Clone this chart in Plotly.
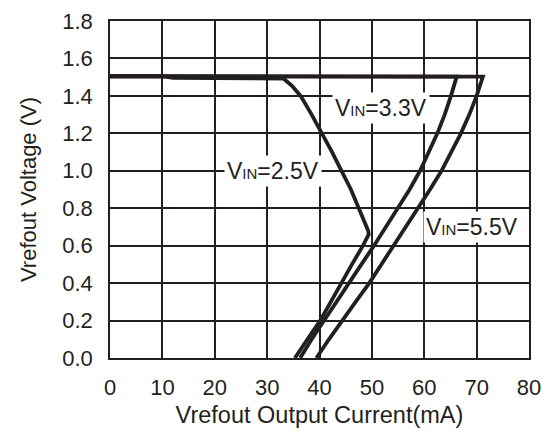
import plotly.graph_objects as go

# VIN = 2.5V curve
x25 = [0, 10, 12, 20, 30, 33.1, 34.7, 36.4, 38.5, 40.5, 42.4, 44.2, 46.0, 47.5, 48.6, 49.3, 49.4, 48.3, 46.2, 44.2, 42.1, 40.1, 37.7, 35.3]
y25 = [1.505, 1.505, 1.497, 1.495, 1.495, 1.493, 1.455, 1.40, 1.30, 1.20, 1.10, 1.00, 0.90, 0.80, 0.73, 0.68, 0.66, 0.60, 0.50, 0.40, 0.30, 0.198, 0.10, 0.0]

# VIN = 3.3V curve
x33 = [0, 40, 66.2, 65.1, 63.9, 62.5, 60.9, 59.2, 57.2, 55.0, 52.7, 50.4, 48.0, 45.6, 43.2, 40.8, 38.5, 36.3]
y33 = [1.505, 1.505, 1.503, 1.40, 1.30, 1.20, 1.10, 1.00, 0.90, 0.80, 0.70, 0.60, 0.50, 0.40, 0.30, 0.20, 0.10, 0.0]

# VIN = 5.5V curve
x55 = [0, 40, 71.2, 70.0, 68.6, 67.0, 65.2, 63.3, 61.1, 58.8, 56.6, 54.3, 51.9, 49.5, 46.9, 44.3, 41.8, 39.4]
y55 = [1.505, 1.505, 1.503, 1.40, 1.30, 1.20, 1.10, 1.00, 0.90, 0.80, 0.70, 0.60, 0.50, 0.40, 0.30, 0.20, 0.10, 0.0]

labels = ["2.5V", "3.3V", "5.5V"]
label_x = [31.2, 51.8, 69.2]
label_y = [1.0, 1.335, 0.70]

x_ticks = list(range(0, 81, 10))
y_ticks = [0.0, 0.2, 0.4, 0.6, 0.8, 1.0, 1.2, 1.4, 1.6, 1.8]

ink = "#231f20"
fig = go.Figure()
for xs, ys in [(x25, y25), (x33, y33), (x55, y55)]:
    fig.add_trace(go.Scatter(x=xs, y=ys, mode="lines",
                             line=dict(color=ink, width=3.8),
                             showlegend=False, hoverinfo="skip"))

for lab, lx, ly in zip(labels, label_x, label_y):
    fig.add_annotation(x=lx, y=ly, xref="x", yref="y", showarrow=False,
                       text="V<span style='font-size:15px'>IN</span>=" + lab,
                       font=dict(family="Liberation Sans, Arial", size=23, color=ink),
                       bgcolor="white", borderpad=2)

fig.update_layout(
    width=554, height=431,
    margin=dict(l=110, r=25, t=21, b=73),
    paper_bgcolor="white", plot_bgcolor="white",
    font=dict(family="Liberation Sans, Arial", size=22, color=ink),
)
fig.update_xaxes(range=[0, 80], tickvals=x_ticks, ticktext=[str(v) for v in x_ticks],
                 showgrid=True, gridcolor=ink, gridwidth=1.5,
                 showline=True, linecolor=ink, linewidth=1.5, mirror=True,
                 zeroline=False, ticks="", ticklabelstandoff=9, automargin=False,
                 tickfont=dict(size=22),
                 title=dict(text="Vrefout Output Current(mA)", font=dict(size=23.5), standoff=7))
fig.update_yaxes(range=[0, 1.8], tickvals=y_ticks, ticktext=[f"{v:.1f}" for v in y_ticks],
                 showgrid=True, gridcolor=ink, gridwidth=1.5,
                 showline=True, linecolor=ink, linewidth=1.5, mirror=True,
                 zeroline=False, ticks="", ticklabelstandoff=11, automargin=False,
                 tickfont=dict(size=22),
                 title=dict(text="Vrefout Voltage (V)", font=dict(size=22), standoff=20))

fig.write_html("out.html")
